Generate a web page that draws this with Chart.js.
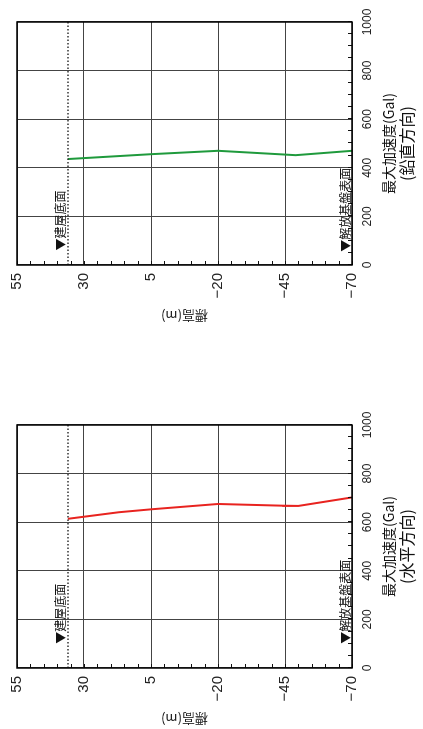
<!DOCTYPE html>
<html>
<head>
<meta charset="utf-8">
<script src="https://cdn.jsdelivr.net/npm/chart.js@4"></script>
<style>
  html, body { margin: 0; padding: 0; background: #fff; overflow: hidden; }
  body { width: 423px; height: 729px; position: relative; }
  .panel { position: absolute; left: 0; top: 0; width: 330px; height: 423px; transform-origin: 0 0; }
  #p1 { transform: translate(0px, 330px) rotate(-90deg); }
  #p2 { transform: translate(0px, 733px) rotate(-90deg); }
</style>
</head>
<body>
<div class="panel" id="p1"><canvas id="c1" width="330" height="423"></canvas></div>
<div class="panel" id="p2"><canvas id="c2" width="330" height="423"></canvas></div>
<script>
// axes
const elevTicks = [55, 30, 5, -20, -45, -70];
const galTicks = [0, 200, 400, 600, 800, 1000];

// 鉛直方向 (vertical)
const vertElev = [36, 5, -20, -49, -70];
const vertGal = [436, 456, 470, 452, 470];

// 水平方向 (horizontal)
const horizElev = [36, 17, 5, -20, -44, -50, -70];
const horizGal = [614, 641, 653, 675, 668, 667, 702];

// levels
const baseElev = 36;     // 建屋底面
const bedrockElev = -70; // 解放基盤表面

const SANS = "'Liberation Sans Narrow', 'Liberation Sans', Arial, sans-serif";
const CJK = "'Noto Sans CJK JP', 'Noto Sans', sans-serif";

// small inward ticks + frame + labels
const decoPlugin = {
    id: "deco",
    afterDraw(chart, args, opts) {
        const ctx = chart.ctx;
        const a = chart.chartArea;
        const xs = chart.scales.x, ys = chart.scales.y;
        ctx.save();
        ctx.strokeStyle = "#111";
        ctx.lineWidth = 1;
        for (let e = -70; e <= 55; e += 5) {
            const y = Math.round(ys.getPixelForValue(e)) + 0.5;
            ctx.beginPath();
            ctx.moveTo(a.left, y);
            ctx.lineTo(a.left + 4, y);
            ctx.stroke();
        }
        for (let g = 0; g <= 1000; g += 50) {
            const x = Math.round(xs.getPixelForValue(g)) + 0.5;
            ctx.beginPath();
            ctx.moveTo(x, a.bottom);
            ctx.lineTo(x, a.bottom - 4);
            ctx.stroke();
        }
        ctx.lineWidth = 1.5;
        ctx.strokeStyle = "#000";
        ctx.strokeRect(a.left, a.top, a.right - a.left, a.bottom - a.top);

        // level labels
        ctx.fillStyle = "#111";
        ctx.font = "12px " + CJK;
        ctx.textAlign = "left";
        ctx.textBaseline = "bottom";
        ctx.fillText("▼建屋底面", xs.getPixelForValue(opts.baseStart), ys.getPixelForValue(baseElev) - 1);
        ctx.fillText("▼解放基盤表面", xs.getPixelForValue(opts.rockStart), ys.getPixelForValue(bedrockElev) - 1);

        // x title, two lines
        const cx = (a.left + a.right) / 2;
        ctx.textAlign = "center";
        ctx.textBaseline = "middle";
        ctx.font = "14px " + CJK;
        ctx.fillText("最大加速度(Gal)", cx, a.bottom + 37);
        ctx.font = "16px " + CJK;
        ctx.fillText(opts.direction, cx, a.bottom + 55);
        ctx.restore();
    }
};

function makeChart(id, elev, gal, color, direction, baseStart, rockStart) {
    return new Chart(document.getElementById(id), {
        type: "scatter",
        data: {
            datasets: [
                {
                    data: [{x: 0, y: baseElev}, {x: 1000, y: baseElev}],
                    showLine: true,
                    borderColor: "#333",
                    borderWidth: 1.5,
                    borderDash: [1.5, 2],
                    pointRadius: 0
                },
                {
                    data: elev.map((e, i) => ({x: gal[i], y: e})),
                    showLine: true,
                    borderColor: color,
                    borderWidth: 2,
                    pointRadius: 0
                }
            ]
        },
        options: {
            responsive: false,
            animation: false,
            devicePixelRatio: 1,
            layout: {
                padding: {top: 17, right: 22, left: 0, bottom: 0}
            },
            plugins: {
                legend: {display: false},
                tooltip: {enabled: false},
                deco: {direction, baseStart, rockStart}
            },
            scales: {
                x: {
                    type: "linear",
                    min: 0,
                    max: 1000,
                    afterBuildTicks: s => { s.ticks = galTicks.map(v => ({value: v})); },
                    afterFit: s => { s.height = 71; },
                    grid: {color: "#444", lineWidth: 1, drawTicks: false},
                    border: {display: false},
                    ticks: {
                        color: "#222",
                        padding: 8,
                        maxRotation: 0,
                        font: {family: SANS, size: 12},
                        callback: v => String(v)
                    }
                },
                y: {
                    type: "linear",
                    min: -70,
                    max: 55,
                    afterBuildTicks: s => { s.ticks = elevTicks.map(v => ({value: v})); },
                    afterFit: s => { s.width = 65; },
                    grid: {color: "#444", lineWidth: 1, drawTicks: false},
                    border: {display: false},
                    ticks: {
                        color: "#222",
                        padding: 8,
                        font: {family: SANS, size: 15},
                        callback: v => (v < 0 ? "\u2212" + Math.abs(v) : String(v))
                    },
                    title: {
                        display: true,
                        text: "標高(m)",
                        color: "#222",
                        padding: {top: 6, bottom: 0},
                        font: {family: CJK, size: 13}
                    }
                }
            }
        },
        plugins: [decoPlugin]
    });
}

makeChart("c1", vertElev, vertGal, "#1f9a3c", "(鉛直方向)", 60, 55);
makeChart("c2", horizElev, horizGal, "#e8231f", "(水平方向)", 100, 100);
</script>
</body>
</html>
